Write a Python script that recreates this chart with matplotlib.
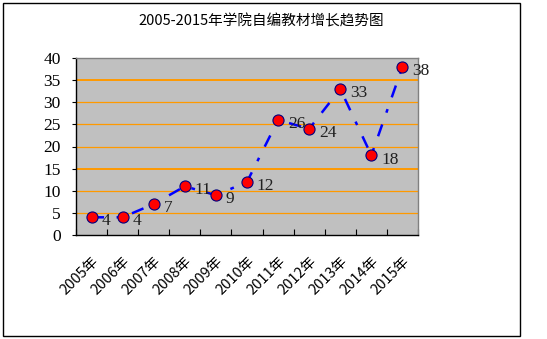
import matplotlib.pyplot as plt
from matplotlib.patches import Rectangle
import numpy as np

# chart data
years = ["2005年", "2006年", "2007年", "2008年", "2009年", "2010年",
         "2011年", "2012年", "2013年", "2014年", "2015年"]
counts = [4, 4, 7, 11, 9, 12, 26, 24, 33, 18, 38]

plt.rcParams['font.family'] = ['Noto Sans CJK SC', 'DejaVu Sans']

fig = plt.figure(figsize=(5.47, 3.39), dpi=100)
fig.patch.set_facecolor('white')

# outer frame
fig.patches.append(Rectangle((3 / 547, 3 / 339), 517 / 547, 333 / 339,
                             transform=fig.transFigure, fill=False,
                             edgecolor='black', linewidth=1.0))

fig.text(261.5 / 547, 1 - 21 / 339, "2005-2015年学院自编教材增长趋势图",
         ha='center', va='center', fontsize=10.5)

ax = fig.add_axes([76 / 547, 1 - 235 / 339, 342 / 547, 177 / 339])
ax.set_facecolor('#c0c0c0')

x = np.arange(len(years)) + 0.5
ax.set_xlim(0, len(years))
ax.set_ylim(0, 40)

# gridlines
for y in range(5, 40, 5):
    lw = 1.4 if y in (15, 35) else 0.9
    ax.axhline(y, color='#ff9900', linewidth=lw, zorder=1)

ax.plot(x, counts, color='#0000ff', linestyle=(0, (5, 5, 1.5, 5)),
        linewidth=1.8, zorder=2)
ax.plot(x, counts, linestyle='none', marker='o', markersize=8,
        markerfacecolor='#ff0000', markeredgecolor='#000080',
        markeredgewidth=0.8, zorder=3)

for xi, v in zip(x, counts):
    ax.annotate(str(v), (xi, v), xytext=(7, -3), textcoords='offset points',
                ha='left', va='center', fontsize=12.5,
                family='Liberation Serif', color='#202020', zorder=4)

ax.set_yticks(range(0, 41, 5))
ax.set_yticklabels([str(t) for t in range(0, 41, 5)],
                   family='Liberation Serif', fontsize=12.5)
ax.set_xticks(np.arange(len(years) + 1))
ax.set_xticklabels([])
ax.set_xticks(x, minor=True)
ax.set_xticklabels(years, minor=True, rotation=45, ha='right',
                   rotation_mode='anchor', fontsize=10.5)
ax.tick_params(axis='x', which='minor', length=0, pad=14)
ax.tick_params(axis='x', which='major', length=4, direction='in', width=0.8)
ax.tick_params(axis='y', length=3, direction='out', width=0.8, pad=8)

for s in ('top', 'right'):
    ax.spines[s].set_color('#808080')
    ax.spines[s].set_linewidth(1.0)
ax.spines['bottom'].set_linewidth(1.0)
ax.spines['left'].set_linewidth(1.0)

fig.savefig('out.png', dpi=100)
